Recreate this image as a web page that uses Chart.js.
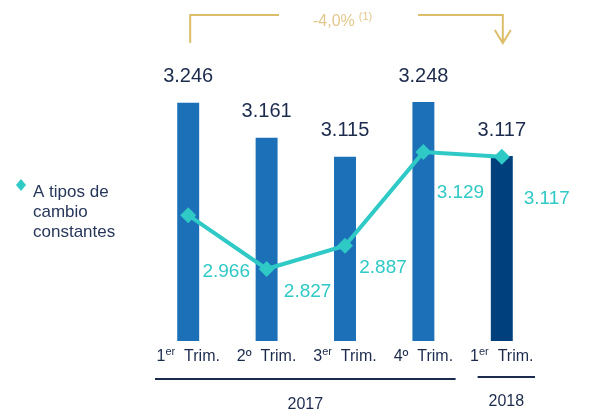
<!doctype html>
<html lang="es">
<head>
<meta charset="utf-8">
<script src="https://cdn.jsdelivr.net/npm/chart.js"></script>
<style>
  body { margin: 0; background: #fff; }
  #wrap { width: 589px; height: 413px; }
</style>
</head>
<body>
<div id="wrap"><canvas id="chart"></canvas></div>
<script>
    // data
    let quarterNum = ['1', '2', '3', '4', '1'];
    let quarterSup = ['er', 'º', 'er', 'º', 'er'];
    let years = ['2017', '2018'];
    let yearSpans = [[0, 3], [4, 4]];
    let totalValues = [3246, 3161, 3115, 3248, 3117];
    let constantValues = [2966, 2827, 2887, 3129, 3117];
    let changeLabel = '-4,0%';
    let legendLines = ['A tipos de', 'cambio', 'constantes'];

    // where the turquoise value labels sit relative to their point
    let lineLabelOffset = [[38, 57], [41, 23], [38, 22], [37, 41], [45, 42]];

    const NAVY = '#1c2b4d';
    const TURQ = '#2fc9c6';
    const GOLD = '#dcbd6a';
    const FONT = '"Liberation Sans", Arial, sans-serif';

    function fmt(v) {
        let s = String(v);
        return s.length > 3 ? s.slice(0, s.length - 3) + '.' + s.slice(-3) : s;
    }

    let labelsPlugin = {
        id: 'labels',
        afterDatasetsDraw(chart) {
            let ctx = chart.ctx;
            let x = chart.scales.x;
            ctx.save();
            ctx.textAlign = 'center';
            ctx.textBaseline = 'middle';

            // bar values
            ctx.font = '20px ' + FONT;
            ctx.fillStyle = NAVY;
            chart.getDatasetMeta(0).data.forEach(function(bar, i) {
                ctx.fillText(fmt(totalValues[i]), bar.x, bar.y - 26);
            });

            // line values
            ctx.font = '19px ' + FONT;
            ctx.fillStyle = TURQ;
            chart.getDatasetMeta(1).data.forEach(function(pt, i) {
                ctx.fillText(fmt(constantValues[i]), pt.x + lineLabelOffset[i][0], pt.y + lineLabelOffset[i][1]);
            });

            // category labels with superscript
            ctx.textAlign = 'left';
            ctx.textBaseline = 'alphabetic';
            let ty = 361;
            quarterNum.forEach(function(n, i) {
                let cx = x.getPixelForValue(i);
                ctx.font = '16px ' + FONT;
                let wN = ctx.measureText(n).width;
                let supSize = quarterSup[i] === 'º' ? 16 : 11;
                ctx.font = supSize + 'px ' + FONT;
                let wS = ctx.measureText(quarterSup[i]).width;
                ctx.font = '16px ' + FONT;
                let rest = '  Trim.';
                let wR = ctx.measureText(rest).width;
                let sx = cx - (wN + wS + wR) / 2;
                ctx.fillStyle = NAVY;
                ctx.fillText(n, sx, ty);
                ctx.font = supSize + 'px ' + FONT;
                ctx.fillText(quarterSup[i], sx + wN, quarterSup[i] === 'º' ? ty : ty - 6);
                ctx.font = '16px ' + FONT;
                ctx.fillText(rest, sx + wN + wS, ty);
            });

            // year brackets
            ctx.strokeStyle = NAVY;
            ctx.lineWidth = 2;
            ctx.textAlign = 'center';
            ctx.font = '16px ' + FONT;
            let half = (x.getPixelForValue(1) - x.getPixelForValue(0)) / 2;
            yearSpans.forEach(function(span, i) {
                let x0 = x.getPixelForValue(span[0]) - half + (i === 0 ? 6 : 15);
                let x1 = x.getPixelForValue(span[1]) + half - (i === 0 ? 7 : 6);
                let ly = i === 0 ? 379 : 377;
                ctx.beginPath();
                ctx.moveTo(x0, ly);
                ctx.lineTo(x1, ly);
                ctx.stroke();
                ctx.fillText(years[i], (x0 + x1) / 2, i === 0 ? 409 : 406);
            });

            // change arrow on top
            let ax0 = x.getPixelForValue(0) + 2;
            let ax1 = x.getPixelForValue(4) + 1;
            ctx.strokeStyle = GOLD;
            ctx.lineWidth = 2;
            ctx.beginPath();
            ctx.moveTo(ax0, 43);
            ctx.lineTo(ax0, 15);
            ctx.lineTo(279, 15);
            ctx.moveTo(418, 15);
            ctx.lineTo(ax1, 15);
            ctx.lineTo(ax1, 43);
            ctx.moveTo(ax1 - 8, 30);
            ctx.lineTo(ax1, 43);
            ctx.lineTo(ax1 + 8, 30);
            ctx.stroke();
            ctx.fillStyle = '#e2c88c';
            ctx.textAlign = 'left';
            ctx.textBaseline = 'middle';
            ctx.font = '16px ' + FONT;
            ctx.fillText(changeLabel, 313, 22);
            let wc = ctx.measureText(changeLabel).width;
            ctx.font = '11px ' + FONT;
            ctx.fillText('(1)', 313 + wc + 4, 17);

            // legend
            ctx.fillStyle = TURQ;
            ctx.beginPath();
            ctx.moveTo(21, 179);
            ctx.lineTo(26, 185);
            ctx.lineTo(21, 191);
            ctx.lineTo(16, 185);
            ctx.closePath();
            ctx.fill();
            ctx.fillStyle = '#27375a';
            ctx.font = '17px ' + FONT;
            legendLines.forEach(function(t, i) {
                ctx.fillText(t, 33, 192 + i * 20);
            });
            ctx.restore();
        }
    };

    let barColors = totalValues.map(function(v, i) { return i === 4 ? '#00407c' : '#1b70b8'; });

    new Chart(document.getElementById('chart').getContext('2d'), {
        type: 'bar',
        data: {
            labels: quarterNum.map(function(n, i) { return n + quarterSup[i] + ' Trim.'; }),
            datasets: [{
                label: 'Total',
                data: totalValues,
                yAxisID: 'y',
                backgroundColor: barColors,
                barPercentage: 0.28,
                categoryPercentage: 1,
                order: 1
            }, {
                type: 'line',
                label: legendLines.join(' '),
                data: constantValues,
                yAxisID: 'y1',
                borderColor: TURQ,
                backgroundColor: TURQ,
                borderWidth: 4,
                pointStyle: 'rectRot',
                pointRadius: 8,
                pointBorderWidth: 0,
                tension: 0,
                order: 0
            }]
        },
        options: {
            responsive: true,
            maintainAspectRatio: false,
            animation: false,
            layout: { padding: { left: 149, right: 48, top: 60, bottom: 72 } },
            plugins: { legend: { display: false }, tooltip: { enabled: false } },
            scales: {
                x: { display: false },
                y: { display: false, min: 2668, max: 3350 },
                y1: { display: false, min: 2641, max: 3367 }
            }
        },
        plugins: [labelsPlugin]
    });
</script>
</body>
</html>
